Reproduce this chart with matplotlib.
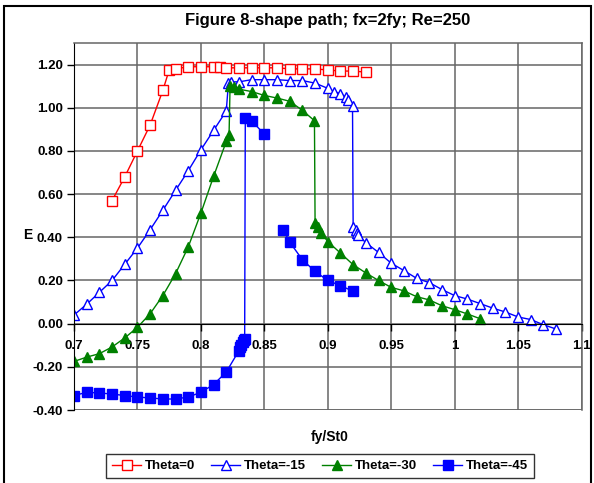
"""Figure 8-shape path chart, E against fy/St0 for four theta values."""

import numpy as np
import matplotlib
matplotlib.use('Agg')
import matplotlib.pyplot as plt
from matplotlib.patches import Rectangle

plt.rcParams['font.family'] = ['Liberation Sans', 'DejaVu Sans']
plt.rcParams['font.weight'] = 'bold'

# Theta = 0
x_t0 = [0.73, 0.74, 0.75, 0.76, 0.77, 0.775, 0.78, 0.79, 0.80, 0.81, 0.815, 0.82,
        0.83, 0.84, 0.85, 0.86, 0.87, 0.88, 0.89, 0.90, 0.91, 0.92, 0.93]
e_t0 = [0.57, 0.68, 0.80, 0.92, 1.08, 1.175, 1.18, 1.19, 1.19, 1.19, 1.19, 1.185,
        1.185, 1.185, 1.185, 1.185, 1.18, 1.18, 1.18, 1.175, 1.17, 1.17, 1.165]

# Theta = -15
x_t15 = [0.70, 0.71, 0.72, 0.73, 0.74, 0.75, 0.76, 0.77, 0.78, 0.79, 0.80, 0.81,
         0.82, 0.8217, 0.8236, 0.83, 0.84, 0.85, 0.86, 0.87, 0.88, 0.89, 0.90,
         0.905, 0.91, 0.914, 0.916, 0.9195, 0.92, 0.922, 0.923, 0.924, 0.93,
         0.94, 0.95, 0.96, 0.97, 0.98, 0.99, 1.00, 1.01, 1.02, 1.03, 1.04,
         1.05, 1.06, 1.07, 1.08]
e_t15 = [0.04, 0.09, 0.145, 0.20, 0.275, 0.35, 0.435, 0.525, 0.617, 0.708, 0.805, 0.895,
         0.985, 1.114, 1.12, 1.12, 1.13, 1.13, 1.13, 1.126, 1.126, 1.114, 1.09,
         1.075, 1.065, 1.05, 1.034, 1.01, 0.45, 0.435, 0.42, 0.41, 0.375,
         0.33, 0.28, 0.246, 0.21, 0.19, 0.158, 0.13, 0.114, 0.093, 0.072, 0.054,
         0.031, 0.019, -0.005, -0.025]

# Theta = -30
x_t30 = [0.70, 0.71, 0.72, 0.73, 0.74, 0.75, 0.76, 0.77, 0.78, 0.79, 0.80, 0.81,
         0.82, 0.8222, 0.823, 0.826, 0.83, 0.84, 0.85, 0.86, 0.87, 0.88, 0.8895,
         0.89, 0.8925, 0.895, 0.90, 0.91, 0.92, 0.93, 0.94, 0.95, 0.96, 0.97,
         0.98, 0.99, 1.00, 1.01, 1.02]
e_t30 = [-0.175, -0.155, -0.139, -0.108, -0.066, -0.017, 0.046, 0.13, 0.231, 0.355, 0.512, 0.682,
         0.844, 0.875, 1.10, 1.095, 1.086, 1.075, 1.057, 1.045, 1.03, 0.988, 0.94,
         0.466, 0.45, 0.42, 0.38, 0.327, 0.273, 0.235, 0.20, 0.168, 0.152, 0.125,
         0.11, 0.083, 0.065, 0.045, 0.023]

# Theta = -45 (gap between 0.85 and 0.865)
x_t45 = [0.70, 0.71, 0.72, 0.73, 0.74, 0.75, 0.76, 0.77, 0.78, 0.79, 0.80, 0.81,
         0.82, 0.83, 0.831, 0.832, 0.833, 0.834, 0.8345, 0.835, 0.84, 0.85, 0.86,
         0.865, 0.87, 0.88, 0.89, 0.90, 0.91, 0.92]
e_t45 = [-0.333, -0.318, -0.321, -0.326, -0.333, -0.34, -0.344, -0.349, -0.349, -0.34, -0.318, -0.282,
         -0.224, -0.125, -0.11, -0.097, -0.085, -0.078, -0.072, 0.952, 0.94, 0.877, np.nan,
         0.435, 0.378, 0.296, 0.242, 0.20, 0.176, 0.15]

x_ticks = [0.7, 0.75, 0.8, 0.85, 0.9, 0.95, 1.0, 1.05, 1.1]
x_labels = ['0.7', '0.75', '0.8', '0.85', '0.9', '0.95', '1', '1.05', '1.1']
y_ticks = [-0.4, -0.2, 0.0, 0.2, 0.4, 0.6, 0.8, 1.0, 1.2]

fig = plt.figure(figsize=(5.94, 4.83), dpi=100)
ax = fig.add_axes([0.1246, 0.1511, 0.8544, 0.7599])

ax.plot(x_t0, e_t0, '-s', color='#FF0000', lw=1, ms=7, mfc='white', mec='#FF0000',
        mew=1, label='Theta=0')
ax.plot(x_t15, e_t15, '-^', color='#0000FF', lw=1, ms=7.5, mfc='white', mec='#0000FF',
        mew=1, label='Theta=-15')
ax.plot(x_t30, e_t30, '-^', color='#008000', lw=1, ms=7.5, mfc='#008000', mec='#008000',
        label='Theta=-30')
ax.plot(x_t45, e_t45, '-s', color='#0000FF', lw=1, ms=7, mfc='#0000FF', mec='#0000FF',
        label='Theta=-45')

ax.set_xlim(0.7, 1.1)
ax.set_ylim(-0.4, 1.3)
ax.set_xticks(x_ticks)
ax.set_xticklabels(x_labels)
ax.set_yticks(y_ticks)
ax.set_yticklabels(['%.2f' % v for v in y_ticks])

ax.grid(True, color='#666666', lw=1.1)
ax.set_axisbelow(True)
for side in ['top', 'right']:
    ax.spines[side].set_color('#666666')
    ax.spines[side].set_linewidth(1.1)
ax.spines['bottom'].set_position(('data', 0))
ax.spines['bottom'].set_color('black')
ax.spines['left'].set_color('black')
ax.axhline(-0.4, color='#666666', lw=1.1, zorder=0.5)

ax.tick_params(axis='both', direction='out', length=5, width=1, labelsize=9.5,
               colors='black')
ax.tick_params(axis='x', pad=7)
ax.tick_params(axis='y', pad=3)
for lab in ax.get_xticklabels() + ax.get_yticklabels():
    lab.set_fontweight('bold')

fig.text(0.551, 0.957, 'Figure 8-shape path; fx=2fy; Re=250', ha='center', va='center',
         fontsize=12, fontweight='bold')
fig.text(0.555, 0.095, 'fy/St0', ha='center', va='center', fontsize=10, fontweight='bold')
fig.text(0.047, 0.513, 'E', ha='center', va='center', fontsize=10, fontweight='bold')

leg = fig.legend(loc='center', bbox_to_anchor=(0.539, 0.035), ncol=4, frameon=True,
                 fancybox=False, edgecolor='black', fontsize=9.5, handlelength=2.2,
                 handletextpad=0.3, columnspacing=1.2, borderpad=0.45)
leg.get_frame().set_linewidth(1)
for t in leg.get_texts():
    t.set_fontweight('bold')

fig.patches.append(Rectangle((0.007, -0.01), 0.988, 0.997, transform=fig.transFigure,
                             fill=False, edgecolor='black', lw=1.5))

fig.savefig('out.png', dpi=100)
